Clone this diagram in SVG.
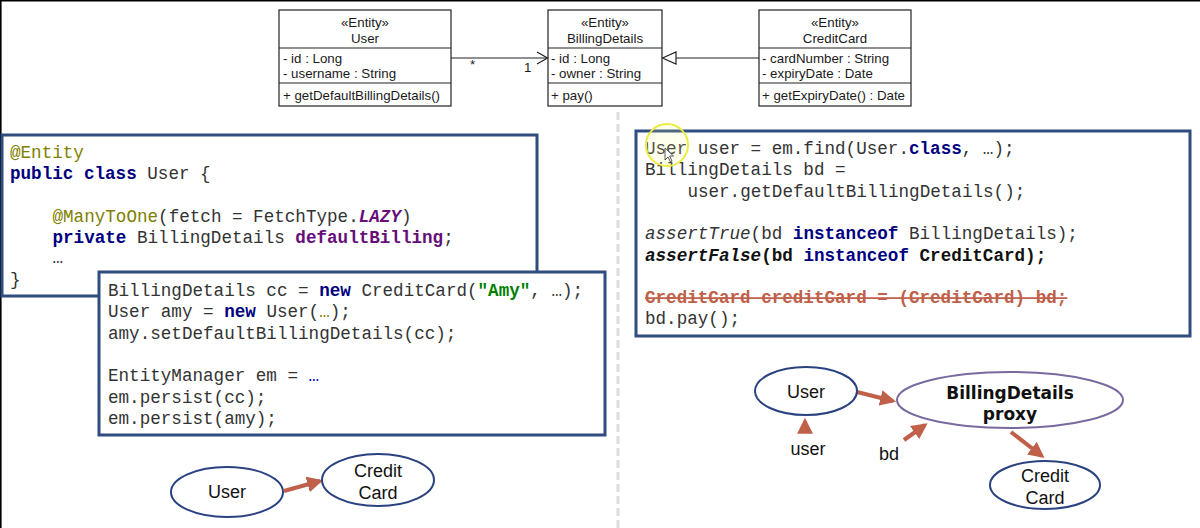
<svg xmlns="http://www.w3.org/2000/svg" width="1200" height="528" viewBox="0 0 1200 528">
<defs>
<style>
.uml{fill:#fff;stroke:#222;stroke-width:1.2}
.ut{font-family:"Liberation Sans",Arial,sans-serif;font-size:13.3px;fill:#1a1a1a}
.box{fill:#fff;stroke:#2f4d7e;stroke-width:3}
.code{font-family:"Liberation Mono","Courier New",monospace;font-size:17.6px;fill:#333;white-space:pre}
.kw{font-weight:bold;fill:#000080}
.ann{fill:#808000}
.pur{font-weight:bold;fill:#660e7a}
.str{font-weight:bold;fill:#008000}
.strike{font-weight:bold;fill:#c0604a;text-decoration:line-through}
.bold{font-weight:bold;fill:#111}
.ell{fill:#fff;stroke:#2a4280;stroke-width:2}
.et{font-family:"Liberation Sans",Arial,sans-serif;font-size:18px;fill:#111;text-anchor:middle}
.arr{stroke:#c0604a;stroke-width:4;fill:none;marker-end:url(#ah)}
</style>
<marker id="ah" viewBox="0 0 10 10" refX="8" refY="5" markerWidth="4" markerHeight="4" orient="auto" markerUnits="strokeWidth">
<path d="M0,0 L10,5 L0,10 z" fill="#c0604a"/>
</marker>
</defs>
<rect x="0" y="0" width="1200" height="528" fill="#fff"/>
<line x1="0" y1="0.8" x2="1200" y2="0.8" stroke="#000" stroke-width="1.6"/>
<line x1="0.8" y1="0" x2="0.8" y2="528" stroke="#000" stroke-width="1.6"/>
<line x1="618" y1="112" x2="618" y2="528" stroke="#dcdcdc" stroke-width="3" stroke-dasharray="8,4"/>

<g id="uml-user">
<rect class="uml" x="279" y="10" width="172" height="96"/>
<line class="uml" x1="279" y1="48" x2="451" y2="48"/>
<line class="uml" x1="279" y1="83" x2="451" y2="83"/>
<text class="ut" x="365" y="27" text-anchor="middle">«Entity»</text>
<text class="ut" x="365" y="43" text-anchor="middle">User</text>
<text class="ut" x="283" y="63">- id : Long</text>
<text class="ut" x="283" y="78">- username : String</text>
<text class="ut" x="283" y="100">+ getDefaultBillingDetails()</text>
</g>
<g id="uml-billing">
<rect class="uml" x="548" y="10" width="114" height="96"/>
<line class="uml" x1="548" y1="48" x2="662" y2="48"/>
<line class="uml" x1="548" y1="83" x2="662" y2="83"/>
<text class="ut" x="605" y="27" text-anchor="middle">«Entity»</text>
<text class="ut" x="605" y="43" text-anchor="middle">BillingDetails</text>
<text class="ut" x="551" y="63">- id : Long</text>
<text class="ut" x="551" y="78">- owner : String</text>
<text class="ut" x="551" y="100">+ pay()</text>
</g>
<g id="uml-creditcard">
<rect class="uml" x="759" y="10" width="152" height="96"/>
<line class="uml" x1="759" y1="48" x2="911" y2="48"/>
<line class="uml" x1="759" y1="83" x2="911" y2="83"/>
<text class="ut" x="835" y="27" text-anchor="middle">«Entity»</text>
<text class="ut" x="835" y="43" text-anchor="middle">CreditCard</text>
<text class="ut" x="762" y="63">- cardNumber : String</text>
<text class="ut" x="762" y="78">- expiryDate : Date</text>
<text class="ut" x="762" y="100">+ getExpiryDate() : Date</text>
</g>

<g id="connectors">
<line x1="451" y1="58" x2="547" y2="58" stroke="#222" stroke-width="1.2"/>
<polyline points="537,52 547.5,58 537,64" fill="none" stroke="#222" stroke-width="1.2"/>
<text class="ut" x="470" y="69">*</text>
<text class="ut" x="524" y="72">1</text>
<line x1="676" y1="58" x2="759" y2="58" stroke="#222" stroke-width="1.2"/>
<polygon points="662.5,58 676,52 676,64" fill="#fff" stroke="#222" stroke-width="1.2"/>
<line class="arr" x1="284" y1="491" x2="320" y2="481"/>
<line class="arr" x1="857" y1="392" x2="893" y2="401"/>
<line class="arr" x1="805" y1="431" x2="805" y2="421"/>
<line class="arr" x1="904" y1="440" x2="925" y2="425"/>
<line class="arr" x1="1011" y1="432" x2="1042" y2="456"/>
</g>

<g id="code-user">
<rect class="box" x="2" y="135" width="535" height="161"/>
<text class="code" x="10" y="158"><tspan class="ann">@Entity</tspan></text>
<text class="code" x="10" y="179"><tspan class="kw">public class</tspan> User {</text>
<text class="code" x="52.5" y="222"><tspan class="ann">@ManyToOne</tspan>(fetch = FetchType.<tspan class="pur" font-style="italic">LAZY</tspan>)</text>
<text class="code" x="52.5" y="243"><tspan class="kw">private</tspan> BillingDetails <tspan class="pur">defaultBilling</tspan>;</text>
<text class="code" x="52.5" y="263">…</text>
<text class="code" x="10" y="285">}</text>
</g>

<g id="code-persist">
<rect class="box" x="99" y="272" width="506" height="163"/>
<text class="code" x="108" y="296">BillingDetails cc = <tspan class="kw">new</tspan> CreditCard(<tspan class="str">"Amy"</tspan>, …);</text>
<text class="code" x="108" y="317.3">User amy = <tspan class="kw">new</tspan> User(<tspan class="ann">…</tspan>);</text>
<text class="code" x="108" y="338.6">amy.setDefaultBillingDetails(cc);</text>
<text class="code" x="108" y="381.2">EntityManager em = <tspan fill="#0000c0">…</tspan></text>
<text class="code" x="108" y="402.5">em.persist(cc);</text>
<text class="code" x="108" y="423.8">em.persist(amy);</text>
</g>

<g id="code-find">
<rect class="box" x="636" y="131" width="554" height="205"/>
<text class="code" x="645" y="154">User user = em.find(User.<tspan class="kw">class</tspan>, …);</text>
<text class="code" x="645" y="175.3">BillingDetails bd =</text>
<text class="code" x="687.4" y="196.6">user.getDefaultBillingDetails();</text>
<text class="code" x="645" y="239.2"><tspan font-style="italic">assertTrue</tspan>(bd <tspan class="kw">instanceof</tspan> BillingDetails);</text>
<text class="code bold" x="645" y="260.5"><tspan font-style="italic">assertFalse</tspan>(bd <tspan class="kw">instanceof</tspan> CreditCard);</text>
<text class="code strike" x="645" y="303.1">CreditCard creditCard = (CreditCard) bd;</text>
<text class="code" x="645" y="324.4">bd.pay();</text>
<circle cx="667" cy="145" r="21" fill="#ffff90" fill-opacity="0.15" stroke="#ecec40" stroke-width="2"/>
<polygon points="665,148 665,160 668,157 670.5,162 672,161 669.5,156 673.5,156" fill="#fff" stroke="#333" stroke-width="0.8"/>
</g>

<g id="node-user-left">
<ellipse class="ell" cx="227" cy="492" rx="56" ry="25"/>
<text class="et" x="227" y="498">User</text>
</g>
<g id="node-creditcard-left">
<ellipse class="ell" cx="378" cy="480" rx="56" ry="26"/>
<text class="et" x="378" y="477">Credit</text>
<text class="et" x="378" y="499">Card</text>
</g>

<g id="node-user-right">
<ellipse class="ell" cx="806" cy="391" rx="51" ry="24"/>
<text class="et" x="806" y="398">User</text>
</g>
<g id="node-proxy">
<ellipse cx="1010" cy="400" rx="113" ry="28" fill="#fff" stroke="#7a6aa0" stroke-width="2"/>
<text x="1010" y="399" text-anchor="middle" font-family="DejaVu Sans,Verdana,sans-serif" font-weight="bold" font-size="17px" fill="#111">BillingDetails</text>
<text x="1010" y="420" text-anchor="middle" font-family="DejaVu Sans,Verdana,sans-serif" font-weight="bold" font-size="17px" fill="#111">proxy</text>
</g>
<g id="node-creditcard-right">
<ellipse class="ell" cx="1045" cy="485" rx="55" ry="24"/>
<text class="et" x="1045" y="482">Credit</text>
<text class="et" x="1045" y="504">Card</text>
</g>
<g id="labels">
<text class="et" x="808" y="455" font-size="19px">user</text>
<text class="et" x="889" y="460" font-size="19px">bd</text>
</g>
</svg>
